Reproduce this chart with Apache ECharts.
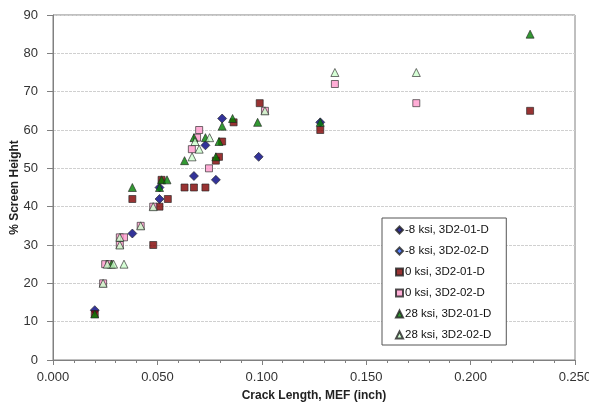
<!DOCTYPE html>
<html>
<head>
<meta charset="utf-8">
<script src="https://cdn.jsdelivr.net/npm/echarts@6/dist/echarts.min.js"></script>
<style>html,body{margin:0;padding:0;background:#fff;}#c{width:589px;height:410px;}</style>
</head>
<body>
<div id="c"></div>
<script>
var seriesNames = ['-8 ksi, 3D2-01-D', '-8 ksi, 3D2-02-D', '0 ksi, 3D2-01-D', '0 ksi, 3D2-02-D', '28 ksi, 3D2-01-D', '28 ksi, 3D2-02-D'];
var m8ksi01 = [[0.020,13],[0.038,33],[0.051,42],[0.051,45],[0.0675,48],[0.078,47],[0.073,56],[0.081,63],[0.0985,53],[0.128,62]];
var m8ksi02 = [];
var ksi0_01 = [[0.020,12],[0.048,30],[0.038,42],[0.051,40],[0.055,42],[0.052,47],[0.063,45],[0.0675,45],[0.073,45],[0.078,52],[0.0795,53],[0.081,57],[0.0865,62],[0.099,67],[0.128,60],[0.2285,65]];
var ksi0_02 = [[0.024,20],[0.025,25],[0.027,25],[0.032,30],[0.032,32],[0.034,32],[0.042,35],[0.048,40],[0.0665,55],[0.069,58],[0.070,60],[0.0747,50],[0.1015,65],[0.135,72],[0.174,67]];
var ksi28_01 = [[0.020,12],[0.028,25],[0.038,45],[0.051,45],[0.052,47],[0.0546,47],[0.063,52],[0.0675,58],[0.073,58],[0.078,53],[0.0795,57],[0.081,61],[0.086,63],[0.098,62],[0.128,62],[0.2285,85]];
var ksi28_02 = [[0.024,20],[0.026,25],[0.029,25],[0.034,25],[0.032,30],[0.032,32],[0.042,35],[0.048,40],[0.0666,53],[0.068,57],[0.070,55],[0.075,58],[0.1015,65],[0.135,75],[0.174,75]];
var xTicks = {min: 0, max: 0.25, interval: 0.05};
var yTicks = {min: 0, max: 90, interval: 10};

var styles = [
  {symbol: 'diamond', size: 9, color: '#000080'},
  {symbol: 'diamond', size: 9, color: '#3366FF'},
  {symbol: 'rect', size: 7, color: '#800000'},
  {symbol: 'rect', size: 7, color: '#FF99CC'},
  {symbol: 'triangle', size: 8, color: '#008000'},
  {symbol: 'triangle', size: 8, color: '#CCFFCC'}
];
var datas = [m8ksi01, m8ksi02, ksi0_01, ksi0_02, ksi28_01, ksi28_02];

var chart = echarts.init(document.getElementById('c'));
var FONT = '"Liberation Sans", Arial, sans-serif';
chart.setOption({
  animation: false,
  backgroundColor: '#fff',
  grid: {left: 53, right: 14, top: 15, bottom: 50, containLabel: false, outerBoundsMode: 'none', show: true, borderColor: '#808080', borderWidth: 1, backgroundColor: 'transparent'},
  xAxis: {
    type: 'value', min: xTicks.min, max: xTicks.max, interval: xTicks.interval,
    name: 'Crack Length, MEF (inch)', nameLocation: 'middle', nameGap: 30, nameMoveOverlap: false,
    nameTextStyle: {fontFamily: FONT, fontSize: 12, fontWeight: 'bold', color: '#222'},
    axisLine: {lineStyle: {color: '#808080'}},
    axisTick: {show: true, length: 5, inside: false, lineStyle: {color: '#808080'}},
    minorTick: {show: true, splitNumber: 5, length: 3, lineStyle: {color: '#808080'}},
    axisLabel: {fontFamily: FONT, fontSize: 13, color: '#333', margin: 11, formatter: function(v){return v.toFixed(3);}},
    splitLine: {show: false}
  },
  yAxis: {
    type: 'value', min: yTicks.min, max: yTicks.max, interval: yTicks.interval,
    name: '% Screen Height', nameLocation: 'middle', nameGap: 32, nameRotate: 90, nameMoveOverlap: false,
    nameTextStyle: {fontFamily: FONT, fontSize: 12, fontWeight: 'bold', color: '#222'},
    axisLine: {show: true, lineStyle: {color: '#808080'}},
    axisTick: {show: true, length: 6, lineStyle: {color: '#808080'}},
    axisLabel: {fontFamily: FONT, fontSize: 13, color: '#333', margin: 15},
    splitLine: {show: true, lineStyle: {color: '#d0d0d0', type: [3, 1], width: 1}}
  },
  legend: {
    orient: 'vertical', left: 382, top: 218,
    width: 110,
    padding: [6, 15, 4, 13],
    itemGap: 9, itemWidth: 7, itemHeight: 7,
    backgroundColor: '#fff', borderColor: '#555', borderWidth: 1,
    textStyle: {fontFamily: FONT, fontSize: 11.5, color: '#111', padding: [0, 0, 0, -3]},
    data: seriesNames.map(function(n){return {name: n};})
  },
  series: datas.map(function(d, i){
    return {
      name: seriesNames[i], type: 'scatter', data: d,
      symbol: styles[i].symbol, symbolSize: styles[i].size,
      itemStyle: {color: styles[i].color, borderColor: '#222', borderWidth: 0.8}
    };
  })
});
</script>
</body>
</html>
